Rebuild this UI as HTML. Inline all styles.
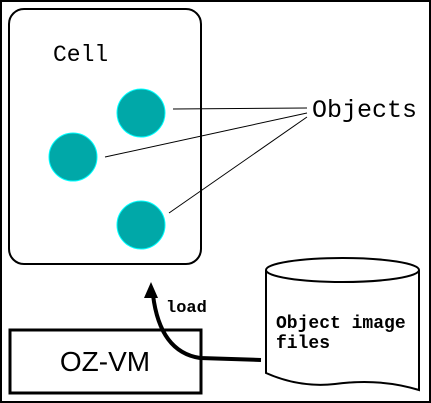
<!DOCTYPE html>
<html><head><style>body{margin:0;background:#fff}svg{display:block}</style></head><body>
<svg width="431" height="403" xmlns="http://www.w3.org/2000/svg">
<rect x="1" y="1" width="429" height="401" fill="none" stroke="#000" stroke-width="2"/>
<rect x="9" y="9" width="192" height="255" rx="15" fill="none" stroke="#000" stroke-width="2"/>
<text x="53" y="61" font-family="Liberation Mono,monospace" font-size="23">Cell</text>
<circle cx="141" cy="113" r="24" fill="#00a8a8" stroke="#00ffff" stroke-width="1"/>
<circle cx="73" cy="157" r="24" fill="#00a8a8" stroke="#00ffff" stroke-width="1"/>
<circle cx="141" cy="225" r="24" fill="#00a8a8" stroke="#00ffff" stroke-width="1"/>
<g stroke="#000" stroke-width="1"><line x1="173" y1="109" x2="307" y2="108"/><line x1="105" y1="157" x2="307" y2="113"/><line x1="169" y1="213" x2="307" y2="117"/></g>
<text x="312" y="117" font-family="Liberation Mono,monospace" font-size="25">Objects</text>
<rect x="10" y="330" width="191" height="63" fill="none" stroke="#000" stroke-width="3"/>
<text x="105" y="371" text-anchor="middle" font-family="Liberation Sans,sans-serif" font-size="28">OZ-VM</text>
<path d="M266 270 L266 373 Q300 388 335 384 Q380 378 419 390 L419 270" fill="none" stroke="#000" stroke-width="2"/>
<ellipse cx="342.5" cy="270" rx="76.5" ry="12" fill="none" stroke="#000" stroke-width="2"/>
<text x="276" y="328" font-family="Liberation Mono,monospace" font-size="18" font-weight="bold">Object image</text>
<text x="276" y="348" font-family="Liberation Mono,monospace" font-size="18" font-weight="bold">files</text>
<text x="166" y="312" font-family="Liberation Mono,monospace" font-size="17" font-weight="bold">load</text>
<path d="M261 360 L200 358 Q160 352 153 295" fill="none" stroke="#000" stroke-width="4"/>
<polygon points="151,282 144,298 158,298" fill="#000"/>
</svg>
</body></html>
